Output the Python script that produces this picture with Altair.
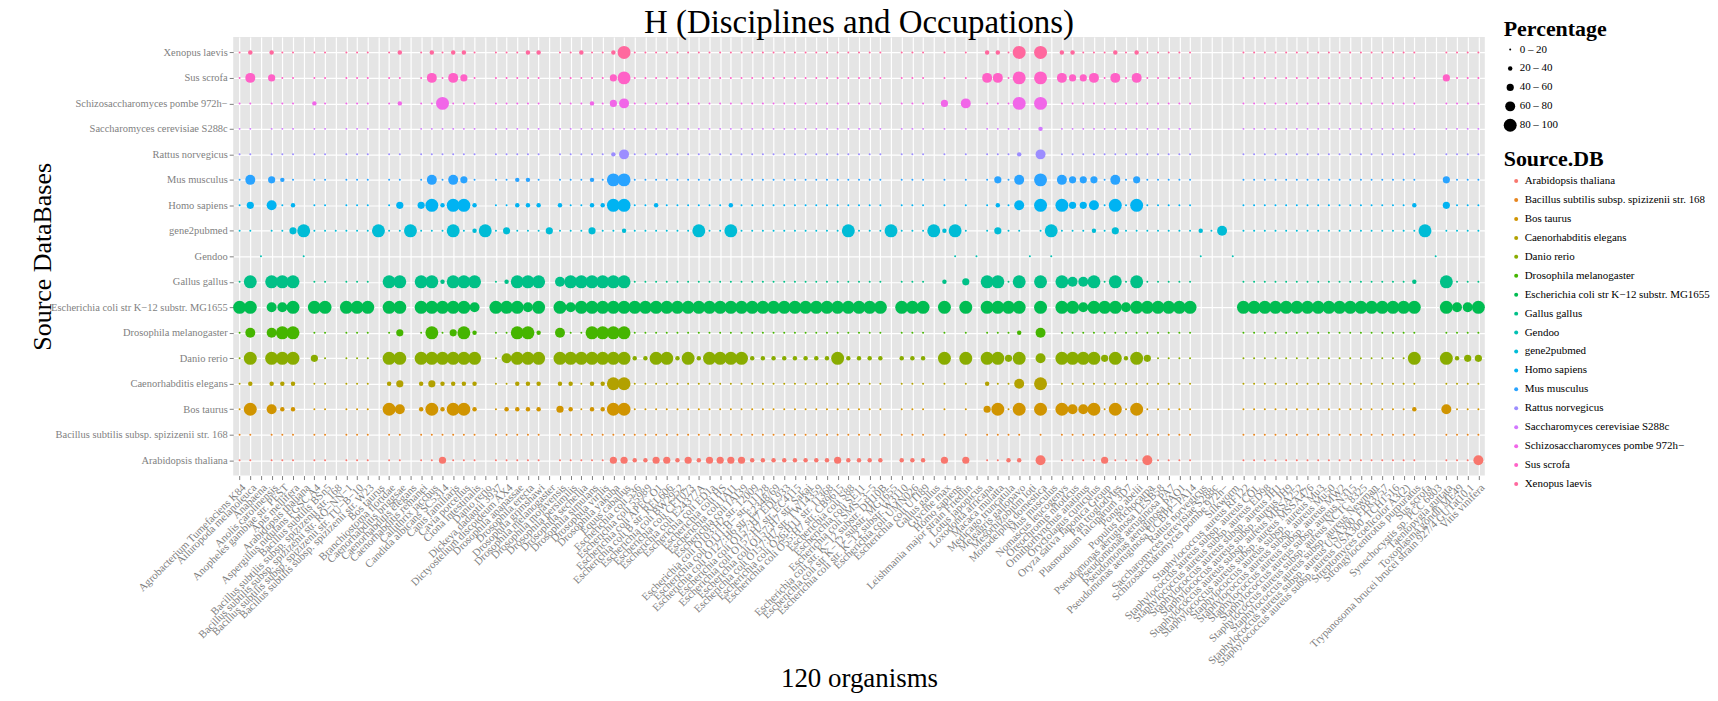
import math
import altair as alt
import pandas as pd

TITLE = "H (Disciplines and Occupations)"
X_TITLE = "120 organisms"
Y_TITLE = "Source DataBases"

organisms = [
    "Agrobacterium Tumefaciens K84", "Ailuropoda melanoleuca", "Anabaena", "Anolis carolinensis",
    "Anopheles gambiae str. PEST", "Apis mellifera", "Arabidopsis thaliana", "Aspergillus nidulans FGSC A4",
    "Bacillus subtilis BSn5", "Bacillus subtilis subsp. spizizenii str. 168",
    "Bacillus subtilis subsp. spizizenii str. RO−NN−1", "Bacillus subtilis subsp. spizizenii str. TU−B−10",
    "Bacillus subtilis subsp. spizizenii str. W23", "Bos taurus", "Branchiostoma floridae",
    "Caenorhabditis briggsae", "Caenorhabditis elegans", "Caenorhabditis remanei", "Callithrix jacchus",
    "Candida albicans SC5314", "Canis familiaris", "Cavia porcellus", "Ciona intestinalis", "Danio rerio",
    "Dickeya dadantii 3937", "Dictyostelium discoideum AX4", "Drosophila ananassae", "Drosophila erecta",
    "Drosophila grimshawi", "Drosophila melanogaster", "Drosophila mojavensis", "Drosophila persimilis",
    "Drosophila sechellia", "Drosophila simulans", "Drosophila virilis", "Drosophila yakuba",
    "Equus caballus", "Escherichia coli 536", "Escherichia coli 55989", "Escherichia coli APEC O1",
    "Escherichia coli B str. REL606", "Escherichia coli BW2952", "Escherichia coli CFT073",
    "Escherichia coli E24377A", "Escherichia coli ED1a", "Escherichia coli HS", "Escherichia coli IAI1",
    "Escherichia coli IAI39", "Escherichia coli O103:H2 str. 12009", "Escherichia coli O111:H− str. 11128",
    "Escherichia coli O127:H6 str. E2348/69", "Escherichia coli O157:H7 EDL933",
    "Escherichia coli O157:H7 str. EC4115", "Escherichia coli O157:H7 str. Sakai",
    "Escherichia coli O157:H7 str. TW14359", "Escherichia coli O26:H11 str. 11368",
    "Escherichia coli O55:H7 str. CB9615", "Escherichia coli S88", "Escherichia coli SE11",
    "Escherichia coli SMS−3−5", "Escherichia coli str. K−12 substr. DH10B",
    "Escherichia coli str K−12 substr. MG1655", "Escherichia coli str. K−12 substr. W3110",
    "Escherichia coli UMN026", "Escherichia coli UTI89", "Gallus gallus", "Glycine max", "Homo sapiens",
    "Leishmania major strain Friedlin", "Lotus japonicus", "Loxodonta africana", "Macaca mulatta",
    "Medicago truncatula", "Meleagris gallopavo", "Mesorhizobium loti", "Monodelphis domestica",
    "Mus musculus", "Nomascus leucogenys", "Oreochromis niloticus", "Ornithorhynchus anatinus",
    "Oryctolagus cuniculus", "Oryza sativa Japonica Group", "Pan troglodytes", "Plasmodium falciparum 3D7",
    "Pongo abelii", "Populus trichocarpa", "Pseudomonas aeruginosa LESB58", "Pseudomonas aeruginosa PA7",
    "Pseudomonas aeruginosa PAO1", "Pseudomonas aeruginosa UCBPP−PA14", "Rattus norvegicus",
    "Saccharomyces cerevisiae S288c", "Schizosaccharomyces pombe 972h−", "Silkworm",
    "Staphylococcus aureus RF122", "Staphylococcus aureus subsp. aureus COL",
    "Staphylococcus aureus subsp. aureus ED98", "Staphylococcus aureus subsp. aureus JH1",
    "Staphylococcus aureus subsp. aureus JH9", "Staphylococcus aureus subsp. aureus MRSA252",
    "Staphylococcus aureus subsp. aureus MSSA476", "Staphylococcus aureus subsp. aureus Mu3",
    "Staphylococcus aureus subsp. aureus Mu50", "Staphylococcus aureus subsp. aureus MW2",
    "Staphylococcus aureus subsp. aureus N315", "Staphylococcus aureus subsp. aureus NCTC 8325",
    "Staphylococcus aureus subsp. aureus Newman", "Staphylococcus aureus subsp. aureus USA300_FPR3757",
    "Staphylococcus aureus subsp. aureus USA300_TCH1516", "Streptomyces coelicolor A3(2)",
    "Strongylocentrotus purpuratus", "Sus scrofa", "Synechocystis sp. PCC 6803", "Taeniopygia guttata",
    "Toxoplasma gondii ME49", "Trypanosoma brucei brucei strain 927/4 GUTat10.1", "Vitis vinifera",
]

source_dbs = [
    "Arabidopsis thaliana",
    "Bacillus subtilis subsp. spizizenii str. 168",
    "Bos taurus",
    "Caenorhabditis elegans",
    "Danio rerio",
    "Drosophila melanogaster",
    "Escherichia coli str K−12 substr. MG1655",
    "Gallus gallus",
    "Gendoo",
    "gene2pubmed",
    "Homo sapiens",
    "Mus musculus",
    "Rattus norvegicus",
    "Saccharomyces cerevisiae S288c",
    "Schizosaccharomyces pombe 972h−",
    "Sus scrofa",
    "Xenopus laevis",
]

# One character per organism (groups of 10 separated by "|"):
# "_" no point, "." 0-20 %, "1" 20-40 %, "2" 40-60 %, "3" 60-80 %, "4" 80-100 %
cells_arabidopsis = ".._..._.._|..._.._..2|..._....._|.....22112|2121222211|1111112111|1_111_2_2_|..11_3_...|.2...3....|____......|..........|.__...3"
cells_bacillus    = ".._..._.._|..._.._...|..._....._|..........|..........|..........|._..._._._|...._._...|..........|____......|..........|.__...."
cells_bos         = ".4_311_.._|..._43_141|441_.1111_|21.1144...|..........|..........|._..._._._|24.4_4_433|4.4.4.....|____......|..........|1__3..."
cells_celegans    = ".1_111_.._|..._12_121|111_..111_|11.1144...|..........|..........|._..._._._|1..3_4_...|..........|____......|..........|.__...."
cells_danio       = ".4_444_2._|..._44_444|444_.3444_|4444444114|4141444411|1111114111|1_111_4_4_|4424_3_444|424142....|____......|..........|4__4122"
cells_drosophila  = ".3_344_.._|..._.2_.4.|241_..441_|3..4444...|..........|..........|._..._._._|...1_3_...|..........|____......|..........|.__...."
cells_ecoli       = "44_334_44_|444_44_444|443_44434_|4344444444|4444444444|4444444444|4_444_4_4_|4444_4_443|4443444444|____444444|4444444444|4__4334"
cells_gallus      = ".4_444_.._|..._44_441|444_.1444_|3444444...|..........|..........|._..._1_2_|44.4_4_433|4.4.4.....|____......|..........|1__4..."
cells_gendoo      = "__.___.___|__________|__________|__________|__________|__________|_______._.|____._.___|__________|.__.______|__________|__.____"
cells_gene2pubmed = ".._..24...|...4..4...|4.14.2...2|...2..1...|...4..4...|.......4..|.4...414._|.2.._.4...|1.2.......|1.3_......|..........|.4_...."
cells_homo        = ".2_3.1_.._|..._.2_241|441_..111_|1..1144..1|......1...|..........|._..._._._|.1.3_4_422|3.4.4.....|____......|..........|1__2..."
cells_mus         = ".3_21._.._|..._.._.3.|32._..11._|...1.44...|..........|..........|._..._._._|.2.3_4_322|2.3.2.....|____......|..........|.__2..."
cells_rattus      = ".._..._.._|..._.._...|..._....._|.....13...|..........|..........|._..._._._|...1_3_...|..........|____......|..........|.__...."
cells_scerevisiae = ".._..._.._|..._.._...|..._....._|..........|..........|..........|._..._._._|...._1_...|..........|____......|..........|.__...."
cells_spombe      = ".._..._1._|..._.1_..4|..._....._|...1.23...|..........|..........|._..._2_3_|...4_4_...|..........|____......|..........|.__...."
cells_sus         = ".3_2.._.._|..._.._.3.|32._....._|.....24...|..........|..........|._..._._._|33.4_4_322|3.3.3.....|____......|..........|.__2..."
cells_xenopus     = ".1_1.._.._|..._.1_.1.|11._...11_|..1..14...|..........|..........|._..._._._|11.4_4_11.|..1.1.....|____......|..........|.__...."

rows = [
    cells_arabidopsis, cells_bacillus, cells_bos, cells_celegans, cells_danio, cells_drosophila,
    cells_ecoli, cells_gallus, cells_gendoo, cells_gene2pubmed, cells_homo, cells_mus, cells_rattus,
    cells_scerevisiae, cells_spombe, cells_sus, cells_xenopus,
]

# representative percentage for each size class
pct_of_code = {".": 10, "1": 30, "2": 50, "3": 70, "4": 90}
pct_sizes = [4, 20, 52, 100, 169]


def hcl_hex(h, c=100.0, l=65.0):
    hr = math.radians(h)
    u = c * math.cos(hr)
    v = c * math.sin(hr)
    xn, yn, zn = 95.047, 100.0, 108.883
    den = xn + 15 * yn + 3 * zn
    un, vn = 4 * xn / den, 9 * yn / den
    y = yn * ((l + 16) / 116) ** 3
    up = u / (13 * l) + un
    vp = v / (13 * l) + vn
    x = y * 9 * up / (4 * vp)
    z = y * (12 - 3 * up - 20 * vp) / (4 * vp)
    x, y, z = x / 100, y / 100, z / 100
    rgb = [
        3.240479 * x - 1.537150 * y - 0.498535 * z,
        -0.969256 * x + 1.875992 * y + 0.041556 * z,
        0.055648 * x - 0.204043 * y + 1.057311 * z,
    ]
    out = []
    for t in rgb:
        t = 1.055 * t ** (1 / 2.4) - 0.055 if t > 0.0031308 else 12.92 * t
        t = min(1.0, max(0.0, t))
        out.append(int(round(t * 255)))
    return "#%02X%02X%02X" % tuple(out)


colors = [hcl_hex(15 + i * 360 / len(source_dbs)) for i in range(len(source_dbs))]

records = []
for db, s in zip(source_dbs, rows):
    s = s.replace("|", "")
    if len(s) != len(organisms):
        raise ValueError(f"{db}: {len(s)} cells vs {len(organisms)} organisms")
    for org, ch in zip(organisms, s):
        if ch != "_":
            records.append({"Organism": org, "SourceDB": db, "Percentage": pct_of_code[ch]})
df = pd.DataFrame(records)

SERIF = "Liberation Serif"
GREY = "#7F7F7F"

chart = alt.Chart(df).mark_circle(opacity=1, strokeWidth=0).encode(
    x=alt.X(
        "Organism:N",
        scale=alt.Scale(domain=organisms, type="point", padding=0.6),
        axis=alt.Axis(
            title=X_TITLE, titleFont=SERIF, titleFontSize=27, titleFontWeight="normal", titleColor="black",
            titleX=628, titleY=204, titleAlign="center", titleBaseline="middle",
            labelFont=SERIF, labelFontSize=11, labelColor=GREY, labelAngle=315, labelAlign="right",
            labelBaseline="top", labelOverlap=False, labelLimit=400, labelPadding=2,
            tickColor=GREY, tickSize=4, tickWidth=1, domain=False,
            grid=True, gridColor="white", gridWidth=1.2,
        ),
    ),
    y=alt.Y(
        "SourceDB:N",
        scale=alt.Scale(domain=list(reversed(source_dbs)), type="point", padding=0.6),
        axis=alt.Axis(
            title=Y_TITLE, titleFont=SERIF, titleFontSize=26, titleFontWeight="normal", titleColor="black",
            titleX=-191, titleY=220, titleAngle=270, titleAlign="center", titleBaseline="middle",
            labelFont=SERIF, labelFontSize=10.5, labelColor=GREY, labelLimit=400, labelPadding=2,
            tickColor=GREY, tickSize=4, tickWidth=1, domain=False,
            grid=True, gridColor="white", gridWidth=1.2,
        ),
    ),
    size=alt.Size(
        "Percentage:Q",
        scale=alt.Scale(type="quantize", domain=[0, 100], range=pct_sizes),
        legend=alt.Legend(
            title="Percentage", orient="none", legendX=1275, legendY=-18, padding=0,
            titleFont=SERIF, titleFontSize=22, titleFontWeight="bold", titleColor="black", titlePadding=3,
            labelFont=SERIF, labelFontSize=11, labelColor="black", labelOffset=3, labelLimit=300,
            labelExpr="replace(replace(datum.label, '< 20', '0 – 20'), '≥ 80', '80 – 100')",
            symbolType="circle", symbolFillColor="black", symbolStrokeWidth=0, rowPadding=7,
        ),
    ),
    color=alt.Color(
        "SourceDB:N",
        scale=alt.Scale(domain=source_dbs, range=colors),
        legend=alt.Legend(
            title="Source.DB", orient="none", legendX=1275, legendY=112, padding=0,
            titleFont=SERIF, titleFontSize=22, titleFontWeight="bold", titleColor="black", titlePadding=5,
            labelFont=SERIF, labelFontSize=11, labelColor="black", labelOffset=3, labelLimit=300,
            symbolType="circle", symbolSize=16, symbolStrokeWidth=0, symbolOffset=7, rowPadding=7,
        ),
    ),
).properties(
    width=1256,
    height=440,
    title=alt.TitleParams(TITLE, font=SERIF, fontSize=33, fontWeight="normal", color="black",
                          anchor="middle", offset=-21),
    padding={"left": 226, "top": 28, "right": 226, "bottom": 217},
    autosize=alt.AutoSizeParams(type="none"),
).configure_view(fill="#E5E5E5", strokeWidth=0)

chart.save("out.html", embed_options={"renderer": "svg", "actions": False})
